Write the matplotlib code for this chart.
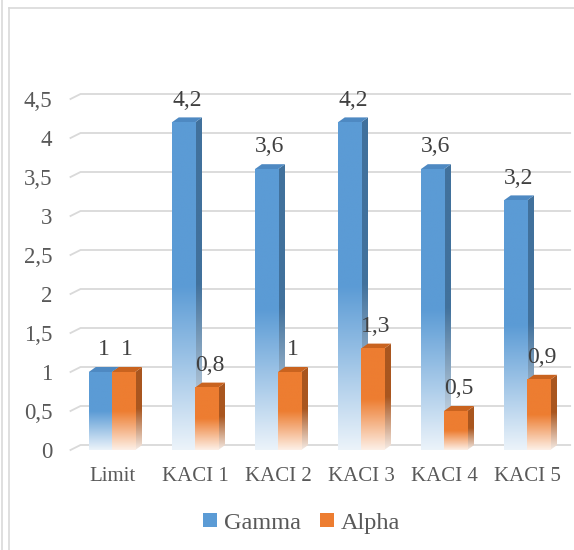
import numpy as np
import matplotlib.pyplot as plt
from matplotlib.patches import Polygon, Patch
from matplotlib.lines import Line2D
from matplotlib.colors import to_rgb

plt.rcParams['font.family'] = ['Liberation Serif', 'DejaVu Serif']

# Datos
categorias = ["Limit", "KACI 1", "KACI 2", "KACI 3", "KACI 4", "KACI 5"]
gamma = [1, 4.2, 3.6, 4.2, 3.6, 3.2]
alpha = [1, 0.8, 1, 1.3, 0.5, 0.9]
ticks_y = [0, 0.5, 1, 1.5, 2, 2.5, 3, 3.5, 4, 4.5]

series = [
    ("Gamma", gamma, "#5B9BD5", "#41719C", "#4E89C2"),
    ("Alpha", alpha, "#ED7D31", "#A9561F", "#C9631F"),
]

W, H = 574, 550
fig = plt.figure(figsize=(W / 100, H / 100), dpi=100)

# Ejes colocados en pixeles: categoria 0 en x=112 px, 83 px por categoria
px_cat = 83.0
px_unit = 78.0
left_px, right_px = 112 - 0.5 * px_cat, 112 + 5.5 * px_cat
bottom_px, top_px = 450, 450 - 4.5 * px_unit
ax = fig.add_axes([left_px / W, 1 - bottom_px / H,
                   (right_px - left_px) / W, (bottom_px - top_px) / H])

ancho = 0.28
dx, dy = 7 / px_cat, 5 / px_unit      # profundidad de las barras
gx, gy = 10 / px_cat, 5 / px_unit     # profundidad de las paredes


def degradado(color, n=120):
    """Columna RGB: color lleno arriba, casi blanco abajo."""
    c = np.array(to_rgb(color))
    t = np.linspace(0, 1, n)
    m = np.clip(0.12 + 0.88 * (t / 0.5), 0, 1)
    m = np.where(t > 0.5, 1.0, m)
    col = m[:, None] * c + (1 - m[:, None]) * 1.0
    return col[:, None, :]


# Lineas de division con la pared lateral en perspectiva
for v in ticks_y:
    ax.plot([-0.5, -0.5 + gx, 5.52], [v, v + gy, v + gy], color="#d9d9d9",
            lw=1.3, clip_on=False, zorder=0)

# Barras 3D
for k, (nombre, valores, c_frente, c_lado, c_tapa) in enumerate(series):
    for i, h in enumerate(valores):
        x0 = i - ancho + k * ancho
        x1 = x0 + ancho
        z = 2 + k
        # lateral
        lado = Polygon([(x1, 0), (x1 + dx, dy), (x1 + dx, h + dy), (x1, h)],
                       closed=True, facecolor="none", edgecolor="none")
        ax.add_patch(lado)
        im = ax.imshow(degradado(c_lado), extent=[x1, x1 + dx, 0, h + dy],
                       origin="lower", aspect="auto", interpolation="bilinear",
                       zorder=z)
        im.set_clip_path(lado)
        # tapa
        ax.add_patch(Polygon([(x0, h), (x1, h), (x1 + dx, h + dy), (x0 + dx, h + dy)],
                             closed=True, facecolor=c_tapa, edgecolor="none", zorder=z))
        # frente
        ax.imshow(degradado(c_frente), extent=[x0, x1, 0, h], origin="lower",
                  aspect="auto", interpolation="bilinear", zorder=z + 0.1)
        # etiqueta
        ax.annotate(f"{h:g}".replace(".", ","), (x0 + ancho / 2 + dx / 2, h + dy),
                    xytext=(0, 8.5), textcoords="offset points", ha="center",
                    va="baseline", fontsize=17, color="#404040", zorder=10)

ax.set_xlim(-0.5, 5.5)
ax.set_ylim(0, 4.5)
ax.set_xticks(range(len(categorias)))
ax.set_xticklabels(categorias, fontsize=15, color="#595959")
ax.set_yticks(ticks_y)
ax.set_yticklabels([f"{v:g}".replace(".", ",") for v in ticks_y],
                   fontsize=16.5, color="#595959")
ax.tick_params(axis="y", length=0, pad=13)
ax.tick_params(axis="x", length=0, pad=12)
for s in ax.spines.values():
    s.set_visible(False)
ax.patch.set_alpha(0)

# Leyenda
handles = [Patch(facecolor=c[2], edgecolor="none", label=c[0]) for c in series]
fig.legend(handles=handles, loc="center", bbox_to_anchor=(0.526, 0.049),
           ncol=2, frameon=False, fontsize=17.5, handlelength=0.55,
           handleheight=0.55, handletextpad=0.3, columnspacing=0.8,
           labelcolor="#595959")

# Borde del area del grafico
fig.add_artist(Line2D([9 / W, 9 / W], [0, 1 - 8 / H], color="#d9d9d9", lw=1.2))
fig.add_artist(Line2D([9 / W, 1], [1 - 8 / H, 1 - 8 / H], color="#d9d9d9", lw=1.2))
fig.add_artist(Line2D([1.5 / W, 1.5 / W], [0, 1], color="#d9d9d9", lw=1.2))

fig.savefig("out.png", dpi=100)
